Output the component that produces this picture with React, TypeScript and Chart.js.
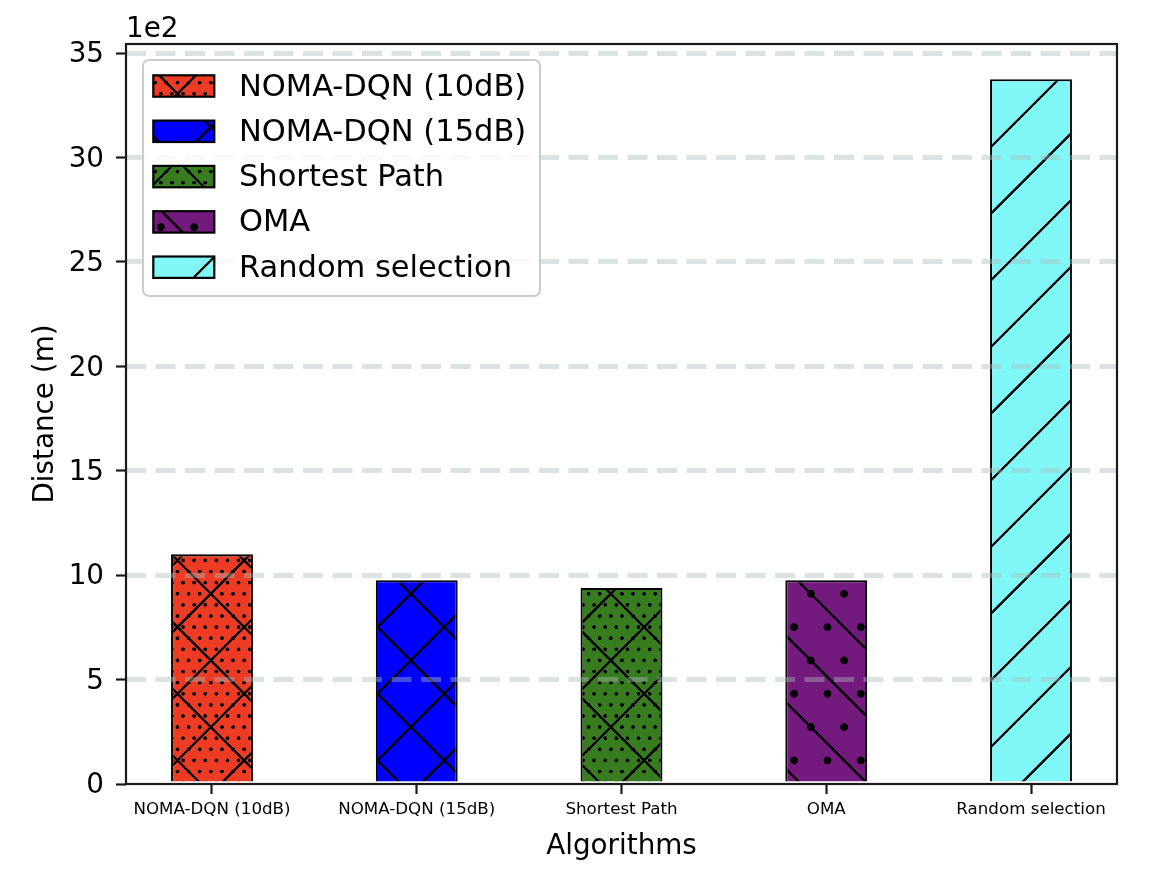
import React, { useEffect, useRef } from "react";
import { Chart, registerables } from "chart.js";

Chart.register(...registerables);

// values in metres (axis shows them in units of 1e2)
const categories = [
  "NOMA-DQN (10dB)",
  "NOMA-DQN (15dB)",
  "Shortest Path",
  "OMA",
  "Random selection",
];
const distances = [1100, 976, 939, 976, 3375];
const yTicks = [0, 500, 1000, 1500, 2000, 2500, 3000, 3500];

const barColors = ["#ee3b24", "#0000ff", "#377d1f", "#741a7e", "#80f8f8"];

type Hatch = { slash?: boolean; back?: boolean; dotRows?: number; dotR?: number };
const hatches: Hatch[] = [
  { slash: true, back: true, dotRows: 6, dotR: 1.9 },
  { slash: true, back: true },
  { slash: true, back: true, dotRows: 6, dotR: 1.9 },
  { back: true, dotRows: 2, dotR: 3.9 },
  { slash: true },
];

const FONT = '"DejaVu Sans", sans-serif';
const UNIT = 200 / 3; // hatch repeat in px
const SCALE = 3;
const ORIGIN = [10.8, 60.4];

function makeHatch(color: string, h: Hatch): CanvasPattern {
  const size = UNIT * SCALE;
  const c = document.createElement("canvas");
  c.width = size;
  c.height = size;
  const g = c.getContext("2d")!;
  g.fillStyle = color;
  g.fillRect(0, 0, size, size);
  g.strokeStyle = "#000";
  g.lineWidth = 2.4 * SCALE;
  const e = 4;
  const line = (x1: number, y1: number, x2: number, y2: number) => {
    g.beginPath();
    g.moveTo(x1, y1);
    g.lineTo(x2, y2);
    g.stroke();
  };
  if (h.slash) {
    for (const k of [0, 1, 2]) {
      const C = k * size;
      line(C + e, -e, C - size - e, size + e);
    }
  }
  if (h.back) {
    for (const k of [-1, 0, 1]) {
      const C = k * size;
      line(C - e, -e, C + size + e, size + e);
    }
  }
  if (h.dotRows) {
    const n = h.dotRows;
    const off = size / n;
    g.fillStyle = "#000";
    for (let row = -1; row <= n + 1; row++) {
      const shift = Math.abs(row) % 2 === 1 ? off / 2 : 0;
      for (let k = -1; k <= n + 1; k++) {
        g.beginPath();
        g.arc(k * off + shift, row * off, (h.dotR || 1) * SCALE, 0, Math.PI * 2);
        g.fill();
      }
    }
  }
  const pat = g.createPattern(c, "repeat")!;
  pat.setTransform(new DOMMatrix([1 / SCALE, 0, 0, 1 / SCALE, ORIGIN[0], ORIGIN[1]]));
  return pat;
}

const framePlugin = {
  id: "frameAndLegend",
  afterDraw(chart: Chart) {
    const { ctx, chartArea } = chart;
    const { left, top, right, bottom } = chartArea;
    ctx.save();
    // spines
    ctx.strokeStyle = "#1a1a1a";
    ctx.lineWidth = 2.2;
    ctx.strokeRect(left, top, right - left, bottom - top);

    // offset text
    ctx.fillStyle = "#000";
    ctx.font = `27.8px ${FONT}`;
    ctx.textBaseline = "alphabetic";
    ctx.textAlign = "left";
    ctx.fillText("1e2", left, top - 7);

    // legend
    const bg = chart.data.datasets[0].backgroundColor as CanvasPattern[];
    const lx = left + 17;
    const ly = top + 16;
    const lw = 397;
    const lh = 236;
    ctx.beginPath();
    ctx.roundRect(lx, ly, lw, lh, 6);
    ctx.fillStyle = "rgba(255,255,255,0.8)";
    ctx.fill();
    ctx.strokeStyle = "#cccccc";
    ctx.lineWidth = 2;
    ctx.stroke();
    ctx.font = `30.5px ${FONT}`;
    categories.forEach((label, i) => {
      const cy = ly + 26 + i * 45.3;
      ctx.fillStyle = bg[i];
      ctx.fillRect(lx + 10.3, cy - 10.7, 61, 21.4);
      ctx.strokeStyle = "#000";
      ctx.lineWidth = 2.2;
      ctx.strokeRect(lx + 10.3, cy - 10.7, 61, 21.4);
      ctx.fillStyle = "#000";
      ctx.fillText(label, lx + 96, cy + 9.5);
    });
    ctx.restore();
  },
};

export default function App() {
  const canvasRef = useRef<HTMLCanvasElement | null>(null);

  useEffect(() => {
    document.body.style.margin = "0";
    document.body.style.overflow = "hidden";
    if (!canvasRef.current) return;

    const patterns = barColors.map((c, i) => makeHatch(c, hatches[i]));
    const yMax = Math.max(...distances) * 1.05;

    const chart = new Chart(canvasRef.current, {
      type: "bar",
      data: {
        datasets: [
          {
            label: "Distance",
            data: distances.map((v, i) => ({ x: i, y: v })),
            backgroundColor: patterns,
            borderColor: "#000",
            borderWidth: 2.1,
            borderSkipped: "start",
            barPercentage: 0.4,
            categoryPercentage: 1,
          },
        ],
      },
      options: {
        responsive: false,
        animation: false,
        layout: { padding: { top: 44, right: 55, left: 0, bottom: 0 } },
        plugins: {
          legend: { display: false },
          tooltip: { enabled: false },
        },
        scales: {
          x: {
            type: "linear",
            offset: false,
            min: -0.42,
            max: 4.42,
            afterFit: (s: any) => {
              s.height = 108;
            },
            afterBuildTicks: (s: any) => {
              s.ticks = categories.map((_, i) => ({ value: i }));
            },
            ticks: {
              callback: (v: any) => categories[v as number],
              font: { family: FONT, size: 16.7 },
              color: "#000",
              padding: 6,
              maxRotation: 0,
              autoSkip: false,
            },
            grid: {
              offset: false,
              drawOnChartArea: false,
              drawTicks: true,
              tickLength: 10,
              tickColor: "#1a1a1a",
              tickWidth: 2.2,
            },
            border: { display: false },
            title: {
              display: true,
              text: "Algorithms",
              font: { family: FONT, size: 27.8 },
              color: "#000",
              padding: { top: 0, bottom: 29 },
            },
          },
          y: {
            min: 0,
            max: yMax,
            afterFit: (s: any) => {
              s.width = 126;
            },
            afterBuildTicks: (s: any) => {
              s.ticks = yTicks.map((v) => ({ value: v }));
            },
            ticks: {
              callback: (v: any) => String((v as number) / 100),
              font: { family: FONT, size: 27.8 },
              color: "#000",
              padding: 12,
              labelOffset: 2,
            },
            grid: {
              z: 1,
              color: (c: any) =>
                c.tick && c.tick.value === 0 ? "rgba(0,0,0,0)" : "rgba(170,185,185,0.42)",
              lineWidth: 5,
              drawTicks: true,
              tickLength: 10,
              tickColor: "#1a1a1a",
              tickWidth: 2.2,
              tickBorderDash: [],
            },
            border: { display: false, dash: [20, 9.5] },
            title: {
              display: true,
              text: "Distance (m)",
              font: { family: FONT, size: 27.8 },
              color: "#000",
              padding: { top: 29, bottom: 0 },
            },
          },
        },
      },
      plugins: [framePlugin],
    });

    return () => {
      chart.destroy();
    };
  }, []);

  return (
    <div style={{ width: 1172, height: 892 }}>
      <canvas ref={canvasRef} width={1172} height={892} style={{ display: "block" }} />
    </div>
  );
}
